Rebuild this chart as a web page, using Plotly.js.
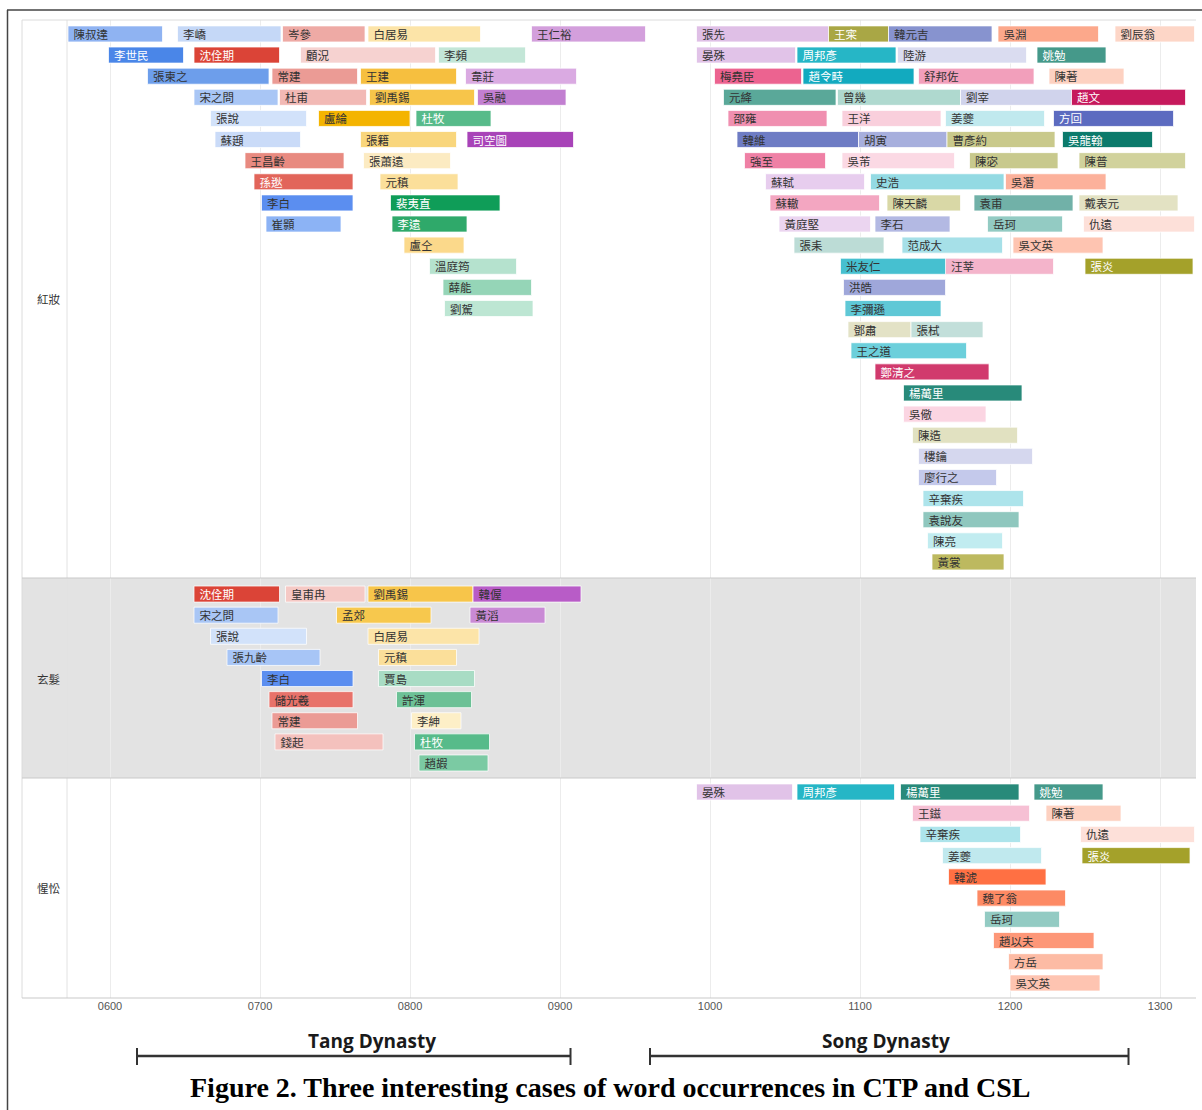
<!DOCTYPE html>
<html>
<head>
<meta charset="utf-8">
<script src="https://cdn.plot.ly/plotly-3.0.1.min.js"></script>
<style>html,body{margin:0;padding:0;background:#fff;}#chart{width:1202px;height:1110px;}</style>
</head>
<body>
<div id="chart"></div>
<script>
// ---------------- DATA ----------------
const panelWords = ['紅妝', '玄髮', '惺忪'];

// Panel 1: 紅妝
const p1Poets = ['陳叔達','李嶠','岑參','白居易','王仁裕','張先','王寀','韓元吉','吳淵','劉辰翁',
 '李世民','沈佺期','顧況','李頻','晏殊','周邦彥','陸游','姚勉',
 '張柬之','常建','王建','韋莊','梅堯臣','趙令畤','舒邦佐','陳著',
 '宋之問','杜甫','劉禹錫','吳融','元絳','曾幾','劉宰','趙文',
 '張說','盧綸','杜牧','邵雍','王洋','姜夔','方回',
 '蘇頲','張籍','司空圖','韓維','胡寅','曹彥約','吳龍翰',
 '王昌齡','張蕭遠','強至','吳芾','陳宓','陳普',
 '孫逖','元稹','蘇軾','史浩','吳潛',
 '李白','裴夷直','蘇轍','陳天麟','袁甫','戴表元',
 '崔顥','李遠','黃庭堅','李石','岳珂','仇遠',
 '盧仝','張耒','范成大','吳文英',
 '溫庭筠','米友仁','汪莘','張炎',
 '薛能','洪皓','劉駕','李彌遜','鄧肅','張栻','王之道','鄭清之','楊萬里','吳儆',
 '陳造','樓鑰','廖行之','辛棄疾','袁說友','陳亮','黃裳'];
const p1Start = [572,645,715,772,881,991,1079,1119,1192,1270,
 599,656,727,819,991,1058,1125,1218,
 625,708,767,837,1003,1062,1139,1226,
 656,713,773,845,1009,1085,1167,1241,
 667,739,804,1012,1088,1157,1229,
 670,767,838,1018,1099,1158,1235,
 690,769,1023,1088,1173,1246,
 696,780,1037,1107,1197,
 701,787,1040,1118,1176,1246,
 704,788,1046,1110,1185,1249,
 796,1056,1128,1202,
 813,1087,1157,1250,
 822,1089,823,1090,1092,1134,1094,1110,1129,1129,
 1135,1139,1139,1142,1142,1145,1148];
const p1End = [635,714,770,847,957,1079,1119,1188,1259,1323,
 649,713,817,877,1057,1124,1211,1264,
 706,765,831,911,1061,1136,1216,1276,
 712,771,843,904,1084,1167,1241,1317,
 731,800,854,1078,1154,1223,1309,
 727,831,909,1099,1158,1230,1295,
 756,827,1077,1163,1232,1317,
 762,832,1103,1196,1264,
 762,860,1113,1167,1242,1312,
 754,838,1107,1160,1235,1323,
 836,1116,1195,1262,
 871,1166,1229,1322,
 881,1157,882,1154,1134,1182,1171,1186,1208,1184,
 1205,1215,1191,1209,1206,1195,1196];
const p1Row = [0,0,0,0,0,0,0,0,0,0,
 1,1,1,1,1,1,1,1,
 2,2,2,2,2,2,2,2,
 3,3,3,3,3,3,3,3,
 4,4,4,4,4,4,4,
 5,5,5,5,5,5,5,
 6,6,6,6,6,6,
 7,7,7,7,7,
 8,8,8,8,8,8,
 9,9,9,9,9,9,
 10,10,10,10,
 11,11,11,11,
 12,12,13,13,14,14,15,16,17,18,
 19,20,21,22,23,24,25];

// Panel 2: 玄髮
const p2Poets = ['沈佺期','皇甫冉','劉禹錫','韓偓','宋之問','孟郊','黃滔','張說','白居易','張九齡','元稹',
 '李白','賈島','儲光羲','許渾','常建','李紳','錢起','杜牧','趙嘏'];
const p2Start = [656,717,772,842,656,751,840,667,772,678,779,701,779,706,791,708,801,710,803,806];
const p2End   = [713,770,842,914,712,814,890,731,846,740,831,762,843,762,841,765,834,782,853,852];
const p2Row   = [0,0,0,0,1,1,1,2,2,3,3,4,4,5,5,6,6,7,7,8];

// Panel 3: 惺忪
const p3Poets = ['晏殊','周邦彥','楊萬里','姚勉','王鎡','陳著','辛棄疾','仇遠','姜夔','張炎',
 '韓淲','魏了翁','岳珂','趙以夫','方岳','吳文英'];
const p3Start = [991,1058,1127,1216,1135,1224,1140,1247,1155,1248,1159,1178,1183,1189,1199,1200];
const p3End   = [1055,1123,1206,1262,1213,1274,1207,1323,1221,1320,1224,1237,1233,1256,1262,1260];
const p3Row   = [0,0,0,0,1,1,2,2,3,3,4,5,6,7,8,9];

const tickYears = [600,700,800,900,1000,1100,1200,1300];
const tickLabels = ['0600','0700','0800','0900','1000','1100','1200','1300'];

const dynasties = ['Tang Dynasty','Song Dynasty'];
const dynStart = [618, 960];
const dynEnd = [907, 1279];

const caption = 'Figure 2. Three interesting cases of word occurrences in CTP and CSL';

// ---------------- STYLE ----------------
const poetColor = {
 '陳叔達':'#8fb3f2','李嶠':'#c5d8f7','岑參':'#eeaaa5','白居易':'#fce4a8','王仁裕':'#d39fdc','張先':'#dfbfe6',
 '王寀':'#a9a745','韓元吉':'#8793cf','吳淵':'#fca88b','劉辰翁':'#fdd6c7','李世民':'#4a86e8','沈佺期':'#db4437',
 '顧況':'#f6d2d0','李頻':'#c3e6d7','晏殊':'#e1c3e8','周邦彥':'#26b6c6','陸游':'#dadcf0','姚勉':'#45998a',
 '張柬之':'#6d9eeb','常建':'#eb9b95','王建':'#f6bf3f','韋莊':'#daaae2','梅堯臣':'#ec6390','趙令畤':'#12aabf',
 '舒邦佐':'#f29fbb','陳著':'#fdd1c1','宋之問':'#a9c6f5','杜甫':'#f2b9b5','劉禹錫':'#f7c54a','吳融':'#c27fd1',
 '元絳':'#5aa899','曾幾':'#afd9cf','劉宰':'#d0d3ec','趙文':'#c6195c','張說':'#d2e2fa','盧綸':'#f4b400',
 '杜牧':'#57bb8a','邵雍':'#f08fb0','王洋':'#f9cfdc','姜夔':'#c0e9ee','方回':'#5c6bc0','蘇頲':'#cadbf8',
 '張籍':'#f9d67c','司空圖':'#a843b8','韓維':'#6e7cc4','胡寅':'#a7afdd','曹彥約':'#c9c98b','吳龍翰':'#0b7a6b',
 '王昌齡':'#e88a80','張蕭遠':'#fcebc2','強至':'#ef80a5','吳芾':'#fbd9e4','陳宓':'#c8c98d','陳普':'#d1d29c',
 '孫逖':'#e2655a','元稹':'#fbdf9a','蘇軾':'#e7cdee','史浩':'#93dae3','吳潛':'#fcb19b','李白':'#5b8ef0',
 '裴夷直':'#0f9d58','蘇轍':'#f3a6c1','陳天麟':'#d9d8a6','袁甫':'#71b1a8','戴表元':'#e3e2c3','崔顥':'#8cb3f5',
 '李遠':'#2fa96a','黃庭堅':'#ebd5f0','李石':'#b3b9e3','岳珂':'#93cbc3','仇遠':'#fde0d9','盧仝':'#fbd98b',
 '張耒':'#bcdcd6','范成大':'#a6e0e8','吳文英':'#fec4b1','溫庭筠':'#b5e2ce','米友仁':'#46c0d0','汪莘':'#f4b4cb',
 '張炎':'#a4a12a','薛能':'#95d5b7','洪皓':'#9fa7da','劉駕':'#bde6d3','李彌遜':'#5fc8d6','鄧肅':'#e3e2c6',
 '張栻':'#c2dfda','王之道':'#6ccfdb','鄭清之':'#d13a6d','楊萬里':'#288a7a','吳儆':'#fbd5e2','陳造':'#e1e1c1',
 '樓鑰':'#d5d7ee','廖行之':'#c4c9eb','辛棄疾':'#ade4eb','袁說友':'#8fc7be','陳亮':'#c1ecf0','黃裳':'#bdb95f',
 '皇甫冉':'#f5c9c5','韓偓':'#b85cc7','孟郊':'#f7c84d','黃滔':'#c98ad5','張九齡':'#a7c5f6','賈島':'#a8dcc4',
 '儲光羲':'#e8726a','許渾':'#6cc196','李紳':'#fdefc7','錢起':'#f4c1bd','趙嘏':'#7bcaa3','王鎡':'#f6c0d4',
 '韓淲':'#ff7043','魏了翁':'#fd8a64','趙以夫':'#fd9778','方岳':'#fdbba4'
};
const whiteText = new Set(['李世民','沈佺期','孫逖','裴夷直','李遠','杜牧','司空圖','王寀','周邦彥','趙令畤',
 '趙文','方回','吳龍翰','姚勉','楊萬里','鄭清之','張炎']);

const CJK = '"Noto Sans CJK TC", "Noto Sans CJK SC", sans-serif';

// pixel geometry
const W = 1202, H = 1110;
const mL = 67, mR = 7, mT = 20, mB = 112;
const pw = W - mL - mR, ph = H - mT - mB;
const px2x = p => (p - mL) / pw;
const px2y = p => (H - mB - p) / ph;

function makeTrace(poets, starts, ends, rows, yaxis) {
  return {
    type: 'bar', orientation: 'h',
    y: rows,
    base: starts,
    x: starts.map((s, i) => ends[i] - s),
    text: poets.map(p => ' ' + p),
    textposition: 'inside',
    insidetextanchor: 'start',
    textangle: 0,
    constraintext: 'none',
    cliponaxis: true,
    insidetextfont: {family: CJK, size: 11.5, color: poets.map(p => whiteText.has(p) ? '#ffffff' : '#333333')},
    width: 0.76,
    marker: {color: poets.map(p => poetColor[p]), line: {color: 'rgba(255,255,255,0.75)', width: 1}},
    xaxis: 'x', yaxis: yaxis,
    hoverinfo: 'text', showlegend: false
  };
}

const traces = [
  makeTrace(p1Poets, p1Start, p1End, p1Row, 'y'),
  makeTrace(p2Poets, p2Start, p2End, p2Row, 'y2'),
  makeTrace(p3Poets, p3Start, p3End, p3Row, 'y3')
];

// panel boundaries in px
const panelTop = [20, 578, 778];
const panelBot = [578, 778, 998];
const yRanges = [[25.76, -0.66], [8.71, -0.76], [9.71, -0.66]];

const yax = (i) => ({
  domain: [px2y(panelBot[i]), px2y(panelTop[i])],
  range: yRanges[i], showticklabels: false, showgrid: false, zeroline: false,
  fixedrange: true, anchor: 'x', showline: false
});

const shapes = [];
// gray band for middle panel
shapes.push({type: 'rect', xref: 'paper', yref: 'paper', layer: 'below',
  x0: px2x(22), x1: px2x(1196), y0: px2y(778), y1: px2y(578), fillcolor: '#e3e3e3', line: {width: 0}});
// pane boundaries
[20, 578, 778, 998].forEach(py => shapes.push({type: 'line', xref: 'paper', yref: 'paper', layer: 'above',
  x0: px2x(22), x1: px2x(1196), y0: px2y(py), y1: px2y(py), line: {color: py === 20 ? '#dcdcdc' : '#c9c9c9', width: 1}}));
shapes.push({type: 'line', xref: 'paper', yref: 'paper', layer: 'below',
  x0: px2x(22), x1: px2x(22), y0: px2y(998), y1: px2y(20), line: {color: '#dcdcdc', width: 1}});
shapes.push({type: 'line', xref: 'paper', yref: 'paper', layer: 'below',
  x0: 0, x1: 0, y0: px2y(998), y1: px2y(20), line: {color: '#e2e2e2', width: 1}});
// outer frame
shapes.push({type: 'line', xref: 'paper', yref: 'paper', x0: px2x(7.5), x1: px2x(7.5), y0: px2y(10), y1: px2y(1112), line: {color: '#444', width: 1.5}});
shapes.push({type: 'line', xref: 'paper', yref: 'paper', x0: px2x(7), x1: px2x(1204), y0: px2y(10), y1: px2y(10), line: {color: '#444', width: 1.5}});
// dynasty brackets
dynasties.forEach((d, i) => {
  shapes.push({type: 'line', xref: 'x', yref: 'paper', x0: dynStart[i], x1: dynEnd[i], y0: px2y(1056), y1: px2y(1056), line: {color: '#333', width: 2.5}});
  [dynStart[i], dynEnd[i]].forEach(v => shapes.push({type: 'line', xref: 'x', yref: 'paper', x0: v, x1: v,
    y0: px2y(1048), y1: px2y(1065), line: {color: '#333', width: 2}}));
});

const annotations = [];
const labelY = [299, 679, 888];
panelWords.forEach((w, i) => annotations.push({xref: 'paper', yref: 'paper', x: px2x(35), y: px2y(labelY[i]),
  xanchor: 'left', yanchor: 'middle', text: w, showarrow: false, font: {family: CJK, size: 11.5, color: '#333'}}));
const dynShift = [18, -3];
dynasties.forEach((d, i) => annotations.push({xref: 'x', yref: 'paper', x: (dynStart[i] + dynEnd[i]) / 2, xshift: dynShift[i],
  y: px2y(1041), xanchor: 'center', yanchor: 'middle', text: d, showarrow: false,
  font: {family: '"Open Sans", sans-serif', size: 19, weight: 700, color: '#1a1a1a'}}));
annotations.push({xref: 'paper', yref: 'paper', x: px2x(610), y: px2y(1087), xanchor: 'center', yanchor: 'middle',
  text: '<b>' + caption + '</b>', showarrow: false, font: {family: '"Liberation Serif", "Times New Roman", serif', size: 28, color: '#000'}});

const layout = {
  width: W, height: H,
  margin: {l: mL, r: mR, t: mT, b: mB, pad: 0},
  paper_bgcolor: '#ffffff', plot_bgcolor: 'rgba(0,0,0,0)',
  barmode: 'overlay', bargap: 0,
  showlegend: false,
  uniformtext: {mode: 'show', minsize: 11},
  xaxis: {
    range: [571.33, 1323.33], anchor: 'y3', tickvals: tickYears, ticktext: tickLabels,
    showgrid: true, gridcolor: '#ececec', gridwidth: 1, zeroline: false, showline: false, ticks: '',
    tickfont: {family: '"Liberation Sans", Arial, sans-serif', size: 11, color: '#555'}, fixedrange: true
  },
  yaxis: yax(0), yaxis2: yax(1), yaxis3: yax(2),
  shapes: shapes, annotations: annotations
};

Plotly.newPlot('chart', traces, layout, {displayModeBar: false, staticPlot: true});
</script>
</body>
</html>
